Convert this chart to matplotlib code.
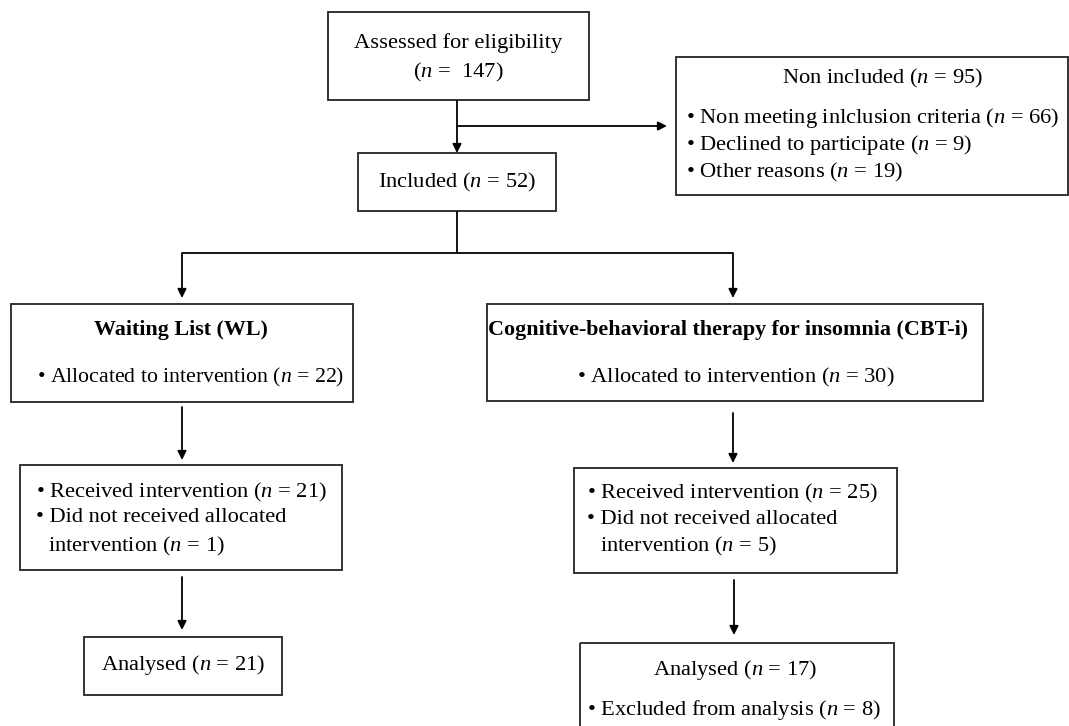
import matplotlib
matplotlib.use("Agg")
import matplotlib.pyplot as plt
from matplotlib.patches import Rectangle

plt.rcParams['font.family'] = ['Liberation Serif', 'DejaVu Serif']
plt.rcParams['mathtext.fontset'] = 'custom'
plt.rcParams['mathtext.rm'] = 'Liberation Serif'
plt.rcParams['mathtext.it'] = 'Liberation Serif:italic'
plt.rcParams['mathtext.bf'] = 'Liberation Serif:bold'

# ---- data ----
assessed_n = 147
included_n = 52
nonincluded_n = 95
nonincluded_reasons = ["Non meeting inlclusion criteria", "Declined to participate", "Other reasons"]
nonincluded_counts = [66, 9, 19]
groups = ["Waiting List (WL)", "Cognitive-behavioral therapy for insomnia (CBT-i)"]
allocated = [22, 30]
received = [21, 25]
not_received = [1, 5]
analysed = [21, 17]
excluded = [None, 8]

FS = 16.2
FSB = 15.8
W, H = 1069, 726
fig = plt.figure(figsize=(W / 100, H / 100), dpi=100)
ax = fig.add_axes([0, 0, 1, 1])
ax.set_xlim(0, W)
ax.set_ylim(H, 0)
ax.axis('off')

def nstr(v):
    return r"($n$ = %s)" % v

def box(x0, y0, x1, y1):
    ax.add_patch(Rectangle((x0, y0), x1 - x0, y1 - y0, fill=False,
                           edgecolor='#333333', linewidth=1.4))

def arrow(x0, y0, x1, y1):
    ax.annotate("", xy=(x1, y1), xytext=(x0, y0),
                arrowprops=dict(arrowstyle='-|>', color='black', lw=1.3,
                                mutation_scale=13, shrinkA=0, shrinkB=0))

def line(xs, ys):
    ax.plot(xs, ys, color='black', lw=1.3, solid_capstyle='butt')

# Assessed
box(328, 12, 589, 100)
ax.text(458, 43, "Assessed for eligibility", ha='center', va='center', fontsize=FS)
ax.text(458, 72, r"($n$ =  %d)" % assessed_n, ha='center', va='center', fontsize=FS)

# Non included
box(676, 57, 1068, 195)
ax.text(883, 78, r"Non included " + nstr(nonincluded_n), ha='center', va='center', fontsize=FS)
for i, (r, c) in enumerate(zip(nonincluded_reasons, nonincluded_counts)):
    ax.text(686, 118 + 27 * i, "\u2022 " + r + " " + nstr(c), ha='left', va='center', fontsize=FS)

line([457, 457], [100, 126])
arrow(457, 126, 457, 153)
arrow(457, 126, 667, 126)

# Included
box(358, 153, 556, 211)
ax.text(457, 182, "Included " + nstr(included_n), ha='center', va='center', fontsize=FS)

# split
line([457, 457], [211, 253])
line([182, 733], [253, 253])
arrow(182, 253, 182, 298)
arrow(733, 253, 733, 298)

# WL allocation
box(11, 304, 353, 402)
ax.text(181, 330, groups[0], ha='center', va='center', fontsize=FSB, fontweight='bold')
ax.text(37, 377, "\u2022 Allocated to intervention " + nstr(allocated[0]), ha='left', va='center', fontsize=15.7)

# CBT allocation
box(487, 304, 983, 401)
ax.text(728, 330, groups[1], ha='center', va='center', fontsize=FSB, fontweight='bold')
ax.text(577, 377, "\u2022 Allocated to intervention " + nstr(allocated[1]), ha='left', va='center', fontsize=FS)

# arrows to received
arrow(182, 407, 182, 460)
arrow(733, 413, 733, 463)

# WL received
box(20, 465, 342, 570)
ax.text(36, 492, "\u2022 Received intervention " + nstr(received[0]), ha='left', va='center', fontsize=FS)
ax.text(36, 518, "\u2022 Did not received allocated", ha='left', va='center', fontsize=FS)
ax.text(48, 546, "intervention " + nstr(not_received[0]), ha='left', va='center', fontsize=FS)

# CBT received
box(574, 468, 897, 573)
ax.text(587, 493, "\u2022 Received intervention " + nstr(received[1]), ha='left', va='center', fontsize=FS)
ax.text(587, 519, "\u2022 Did not received allocated", ha='left', va='center', fontsize=FS)
ax.text(600, 546, "intervention " + nstr(not_received[1]), ha='left', va='center', fontsize=FS)

# arrows to analysed
arrow(182, 577, 182, 630)
arrow(734, 580, 734, 635)

# WL analysed
box(84, 637, 282, 695)
ax.text(183, 665, "Analysed " + nstr(analysed[0]), ha='center', va='center', fontsize=FS)

# CBT analysed
box(580, 643, 894, 740)
ax.text(735, 670, "Analysed " + nstr(analysed[1]), ha='center', va='center', fontsize=FS)
ax.text(587, 710, "\u2022 Excluded from analysis " + nstr(excluded[1]), ha='left', va='center', fontsize=FS)

fig.savefig("out.png", dpi=100, facecolor='white')
